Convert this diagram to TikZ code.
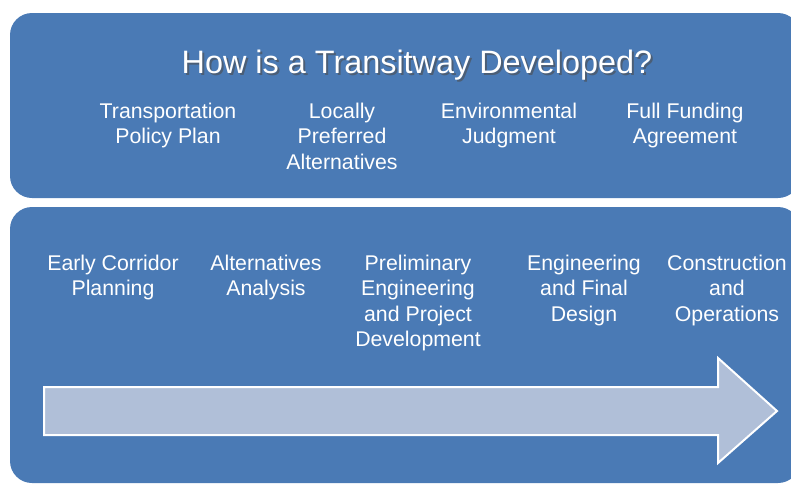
\documentclass[tikz,border=0pt]{standalone}
\usepackage{fontspec}
\setmainfont{Liberation Sans}
\definecolor{panelblue}{HTML}{4A7AB5}
\definecolor{arrowfill}{HTML}{B0BFD8}

\begin{document}
\begin{tikzpicture}[x=1pt, y=-1pt,
        panel/.style={fill=panelblue, rounded corners=22pt},
        stage/.style={text=white, align=center, anchor=north, inner sep=0pt,
            font=\fontsize{21.3}{25.3}\selectfont}]
        \useasboundingbox (0,0) rectangle (791,485);
        % ==== PANELS ====
        \fill[panel] (10,13) rectangle (800,198);
        \fill[panel] (10,207) rectangle (800,483);

        % ==== Title ====
        \node[anchor=base, inner sep=0pt, text=black!70, opacity=0.6,
            font=\fontsize{32.4}{38}\selectfont] at (419,75) {How is a Transitway Developed?};
        \node[anchor=base, inner sep=0pt, text=white,
            font=\fontsize{32.4}{38}\selectfont] (title) at (417,73) {How is a Transitway Developed?};

        % ==== Milestones ====
        \node[stage] (tpp) at (168,103) {Transportation\\Policy Plan};
        \node[stage] (lpa) at (342,103) {Locally\\Preferred\\Alternatives};
        \node[stage] (ej)  at (509,103) {Environmental\\Judgment};
        \node[stage] (ffa) at (685,103) {Full Funding\\Agreement};

        % ==== Phases ====
        \node[stage] (ecp)  at (113,255) {Early Corridor\\Planning};
        \node[stage] (aa)   at (266,255) {Alternatives\\Analysis};
        \node[stage] (pepd) at (418,255) {Preliminary\\Engineering\\and Project\\Development};
        \node[stage] (efd)  at (584,255) {Engineering\\and Final\\Design};
        \node[stage] (co)   at (727,255) {Construction\\and\\Operations};

        % ==== Progress Arrow ====
        \draw[white, line width=2pt, fill=arrowfill, line join=miter]
            (44,387) -- (718,387) -- (718,358) -- (777,411) -- (718,463)
            -- (718,435) -- (44,435) -- cycle;
\end{tikzpicture}
\end{document}
